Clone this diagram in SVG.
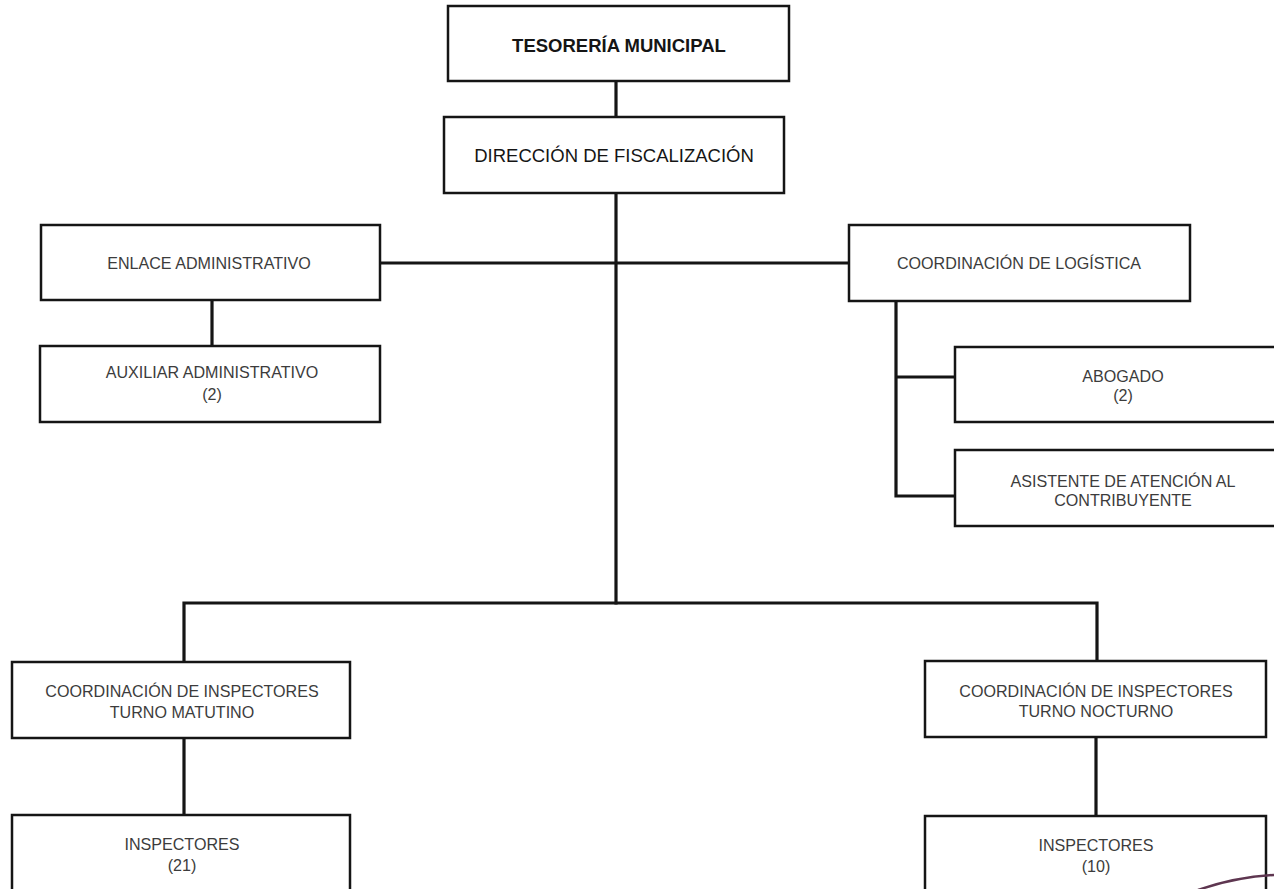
<svg xmlns="http://www.w3.org/2000/svg" width="1274" height="889" viewBox="0 0 1274 889">
<style>
.box{fill:#fff;stroke:#151515;stroke-width:2.5}
.conn{stroke:#151515;stroke-width:3.2;fill:none;stroke-linecap:square}
.lbl{font-family:"Liberation Sans",Arial,sans-serif;font-size:16.1px;fill:#3c3c3c;text-anchor:middle}
.hd{font-family:"Liberation Sans",Arial,sans-serif;font-size:18.5px;fill:#151515;text-anchor:middle}
</style>
<rect width="1274" height="889" fill="#fff"/>
<g id="connectors">
<path class="conn" d="M616,81V117"/>
<path class="conn" d="M616,193V603"/>
<path class="conn" d="M380,263H849"/>
<path class="conn" d="M212,300V346"/>
<path class="conn" d="M896,301V496H955M896,377H955"/>
<path class="conn" d="M184,662V603H1097V661"/>
<path class="conn" d="M184,738V815"/>
<path class="conn" d="M1096,737V816"/>
</g>
<g id="tesoreria">
<rect class="box" x="448" y="6" width="341" height="75"/>
<text class="hd" x="619" y="52" font-weight="bold" font-size="18">TESORERÍA MUNICIPAL</text>
</g>
<g id="direccion">
<rect class="box" x="444" y="117" width="340" height="76"/>
<text class="hd" x="614" y="162">DIRECCIÓN DE FISCALIZACIÓN</text>
</g>
<g id="enlace">
<rect class="box" x="41" y="225" width="339" height="75"/>
<text class="lbl" x="209" y="269">ENLACE ADMINISTRATIVO</text>
</g>
<g id="auxiliar">
<rect class="box" x="40" y="346" width="340" height="76"/>
<text class="lbl" x="212" y="378">AUXILIAR ADMINISTRATIVO</text>
<text class="lbl" x="212" y="400">(2)</text>
</g>
<g id="logistica">
<rect class="box" x="849" y="225" width="341" height="76"/>
<text class="lbl" x="1019" y="269">COORDINACIÓN DE LOGÍSTICA</text>
</g>
<g id="abogado">
<rect class="box" x="955" y="347" width="340" height="75"/>
<text class="lbl" x="1123" y="382">ABOGADO</text>
<text class="lbl" x="1123" y="401">(2)</text>
</g>
<g id="asistente">
<rect class="box" x="955" y="450" width="340" height="76"/>
<text class="lbl" x="1123" y="487">ASISTENTE DE ATENCIÓN AL</text>
<text class="lbl" x="1123" y="506">CONTRIBUYENTE</text>
</g>
<g id="coord-matutino">
<rect class="box" x="12" y="662" width="338" height="76"/>
<text class="lbl" x="182" y="697">COORDINACIÓN DE INSPECTORES</text>
<text class="lbl" x="182" y="718">TURNO MATUTINO</text>
</g>
<g id="inspectores-matutino">
<rect class="box" x="12" y="815" width="338" height="100"/>
<text class="lbl" x="182" y="850">INSPECTORES</text>
<text class="lbl" x="182" y="871">(21)</text>
</g>
<g id="coord-nocturno">
<rect class="box" x="925" y="661" width="341" height="76"/>
<text class="lbl" x="1096" y="697">COORDINACIÓN DE INSPECTORES</text>
<text class="lbl" x="1096" y="717">TURNO NOCTURNO</text>
</g>
<g id="inspectores-nocturno">
<rect class="box" x="925" y="816" width="341" height="100"/>
<text class="lbl" x="1096" y="851">INSPECTORES</text>
<text class="lbl" x="1096" y="872">(10)</text>
</g>
<path d="M1198,890 Q1236,877 1274,875" fill="none" stroke="#5e3650" stroke-width="2.5"/>
</svg>
